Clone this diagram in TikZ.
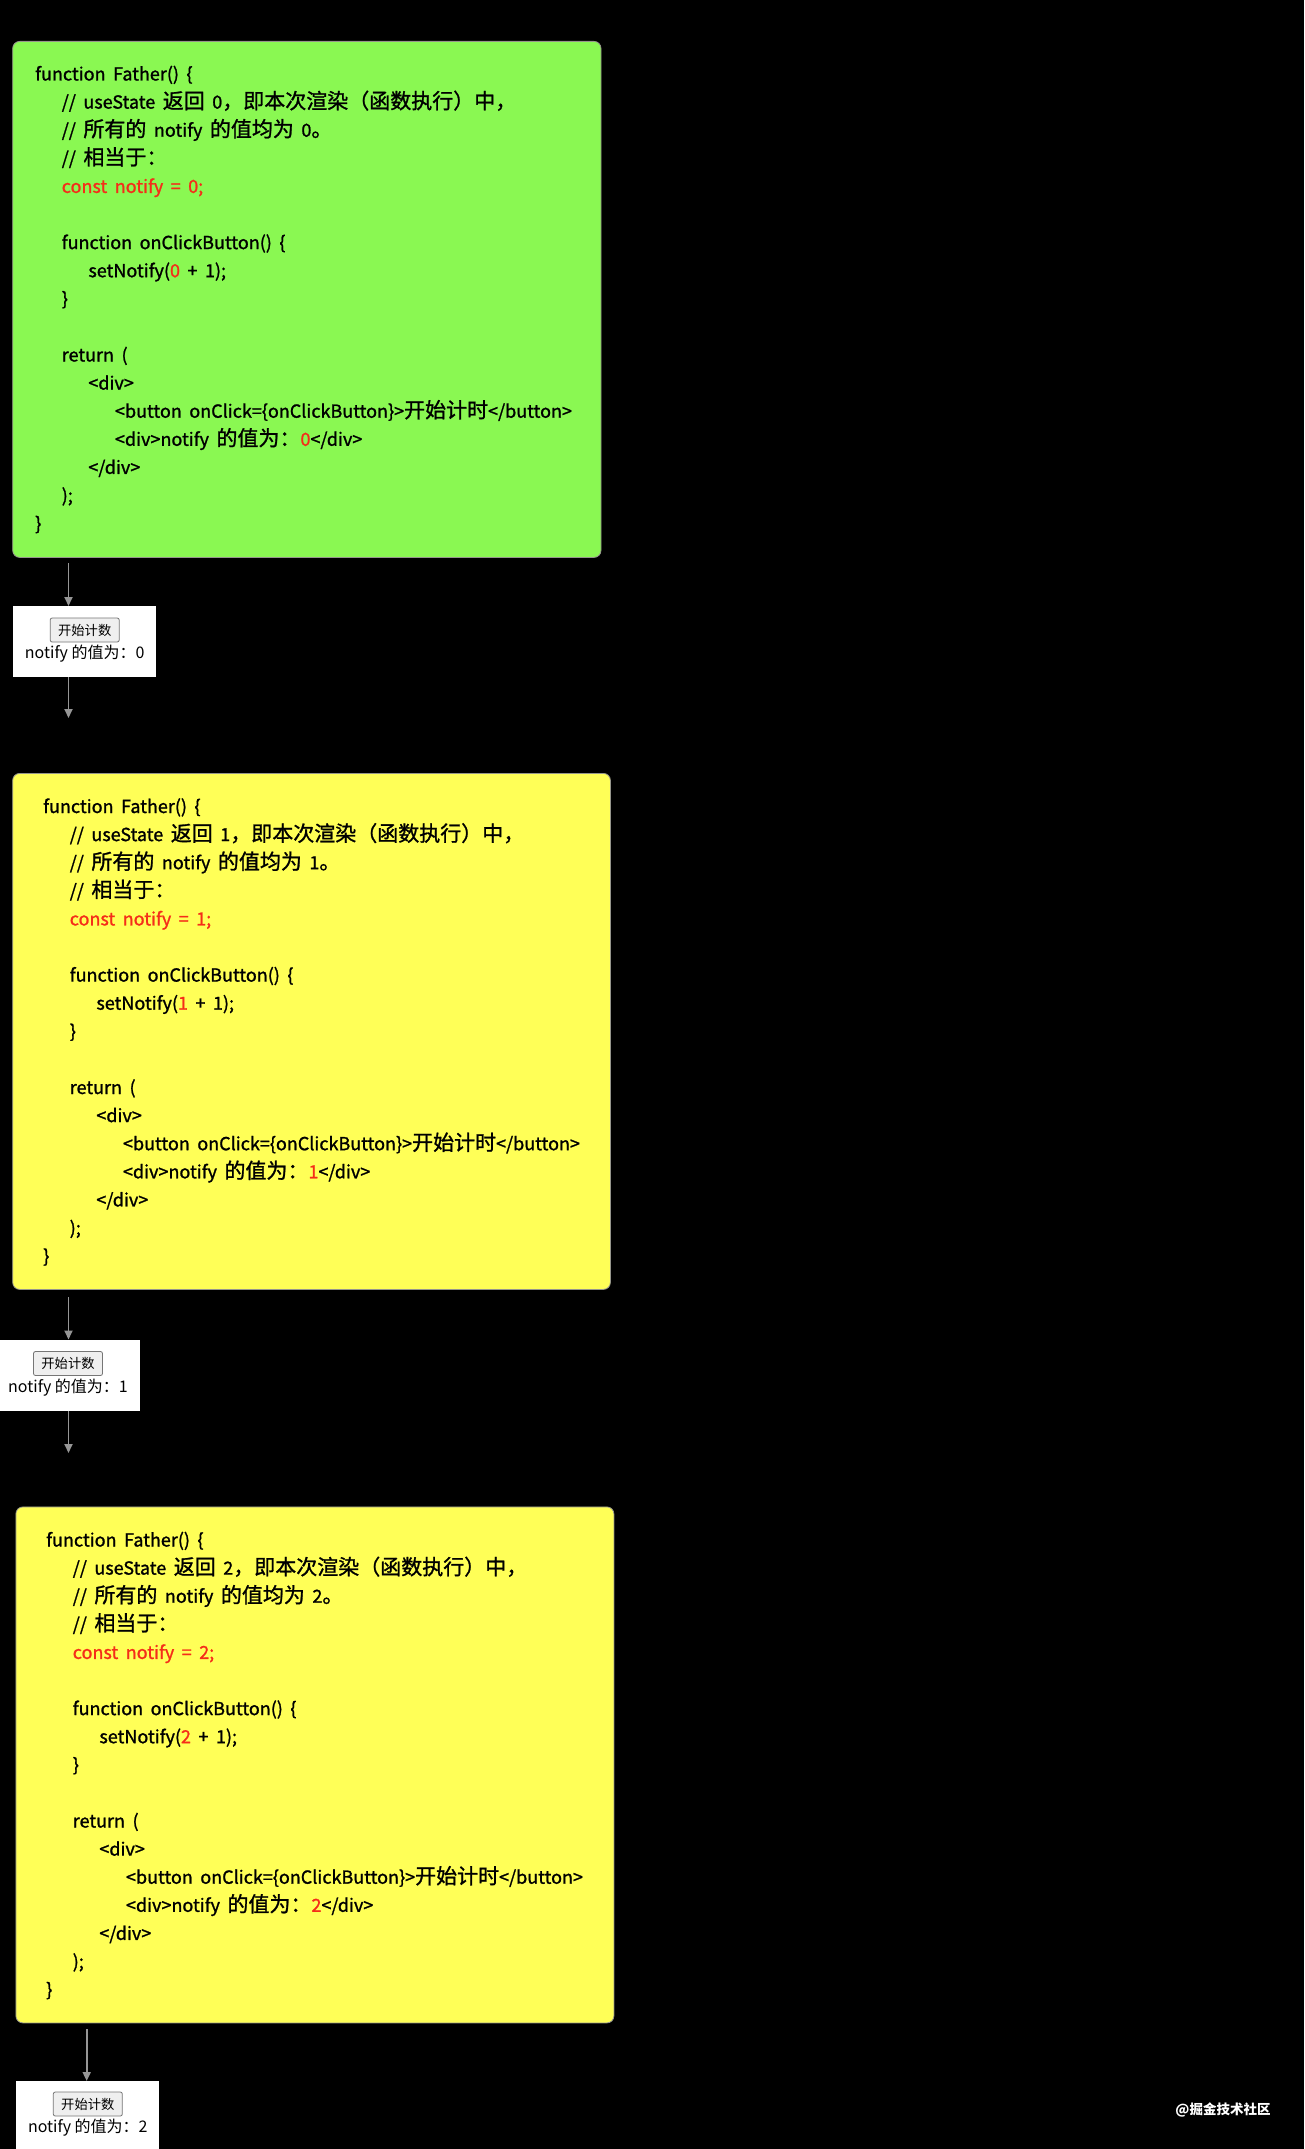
\documentclass[tikz,border=0pt]{standalone}
\usepackage{fontspec}
\setmainfont{Noto Sans CJK SC}
\newfontfamily\codefont{Noto Sans CJK SC}[FakeBold=1.2]
\usetikzlibrary{arrows.meta}
\definecolor{codegreen}{RGB}{138,248,82}
\definecolor{codeyellow}{RGB}{255,255,87}
\definecolor{codered}{RGB}{245,45,25}
\definecolor{boxedge}{RGB}{150,150,140}
\definecolor{arrgray}{RGB}{150,150,150}
\definecolor{btnedge}{RGB}{118,118,118}
\definecolor{btnfill}{RGB}{239,239,239}
\def\LH{28.1}
\def\IND{26.6}
\newcommand{\codesize}{\codefont\fontsize{18}{22}\selectfont\spaceskip 7.5pt\relax}
\newcommand{\cj}[1]{{\fontsize{21}{22}\selectfont#1}}
\newcommand{\codeblock}[4]{%
  \node[code] (#1l0) at ({#2},{#3+6.5}) {function Father() \{};
  \node[code] (#1l1) at ({#2+\IND},{#3+\LH+6.5}) {// useState \cj{返回} #4\cj{，即本次渲染（函数执行）中，}};
  \node[code] (#1l2) at ({#2+\IND},{#3+2*\LH+6.5}) {// \cj{所有的} notify \cj{的值均为} #4\cj{。}};
  \node[code] (#1l3) at ({#2+\IND},{#3+3*\LH+6.5}) {// \cj{相当于：}};
  \node[code,text=codered] (#1l4) at ({#2+\IND},{#3+4*\LH+6.5}) {const notify = #4;};
  \node[code] (#1l6) at ({#2+\IND},{#3+6*\LH+6.5}) {function onClickButton() \{};
  \node[code] (#1l7) at ({#2+2*\IND},{#3+7*\LH+6.5}) {setNotify(\textcolor{codered}{#4} + 1);};
  \node[code] (#1l8) at ({#2+\IND},{#3+8*\LH+6.5}) {\}};
  \node[code] (#1l10) at ({#2+\IND},{#3+10*\LH+6.5}) {return (};
  \node[code] (#1l11) at ({#2+2*\IND},{#3+11*\LH+6.5}) {<div>};
  \node[code] (#1l12) at ({#2+3*\IND},{#3+12*\LH+6.5}) {<button onClick=\{onClickButton\}>\cj{开始计时}</button>};
  \node[code] (#1l13) at ({#2+3*\IND},{#3+13*\LH+6.5}) {<div>notify \cj{的值为：}\textcolor{codered}{#4}</div>};
  \node[code] (#1l14) at ({#2+2*\IND},{#3+14*\LH+6.5}) {</div>};
  \node[code] (#1l15) at ({#2+\IND},{#3+15*\LH+6.5}) {);};
  \node[code] (#1l16) at ({#2},{#3+16*\LH+6.5}) {\}};
}
\tikzset{
  code/.style={anchor=base west, inner sep=0pt, text=black, font=\codesize},
  codebox/.style={draw=boxedge, line width=0.8pt, rounded corners=7pt, anchor=north west, minimum width=588pt, minimum height=516pt, inner sep=0pt},
  outbox/.style={fill=white, draw=none, anchor=north west, minimum width=143.5pt, minimum height=71pt, inner sep=0pt},
  btn/.style={draw=btnedge, fill=btnfill, line width=0.8pt, rounded corners=2pt, minimum width=69pt, minimum height=24pt, inner sep=0pt, text=black, font=\fontsize{13.3}{15}\selectfont},
  outtxt/.style={inner sep=0pt, text=black, font=\fontsize{16}{19}\selectfont},
  arr/.style={draw=arrgray, line width=1.8pt, -{Triangle[length=9pt,width=8pt]}},
  wmark/.style={inner sep=0pt, text=white, font=\bfseries\fontsize{13.5}{15}\selectfont}
}
\begin{document}
\begin{tikzpicture}[x=1pt,y=-1pt]
\useasboundingbox (0,0) rectangle (1304,2149);
\fill[black] (0,0) rectangle (1304,2149);

% code boxes
\node[codebox, fill=codegreen, minimum width=588.3pt] (gbox) at (12.3,41) {};
\codeblock{g}{35}{74}{0}
\node[codebox, fill=codeyellow, minimum width=597.7pt] (ybox1) at (12.3,773) {};
\codeblock{ya}{43}{806.5}{1}
\node[codebox, fill=codeyellow, minimum width=598pt] (ybox2) at (15.5,1506.5) {};
\codeblock{yb}{46}{1540}{2}

% output boxes
\node[outbox] (wb1) at (12.3,606) {};
\node[btn] (bt1) at (84.7,630) {开始计数};
\node[outtxt] (ot1) at (84.7,654) {notify 的值为：0};

\node[outbox] (wb2) at (-3.5,1339.5) {};
\node[btn] (bt2) at (68,1363.5) {开始计数};
\node[outtxt] (ot2) at (68,1387.5) {notify 的值为：1};

\node[outbox] (wb3) at (15.5,2081) {};
\node[btn] (bt3) at (87.8,2104) {开始计数};
\node[outtxt] (ot3) at (87.8,2128) {notify 的值为：2};

% arrows
\coordinate (s1) at (68.5,563);
\coordinate (e2) at (68.5,718);
\coordinate (s3) at (68.5,1297);
\coordinate (e4) at (68.5,1453);
\coordinate (s5) at (86.7,2029);
\draw[arr] (s1) -- (s1 |- wb1.north);
\draw[arr] (wb1.south -| e2) -- (e2);
\draw[arr] (s3) -- (s3 |- wb2.north);
\draw[arr] (wb2.south -| e4) -- (e4);
\draw[arr] (s5) -- (s5 |- wb3.north);

% watermark
\node[wmark] (wm) at (1223,2110) {@掘金技术社区};
\end{tikzpicture}
\end{document}
